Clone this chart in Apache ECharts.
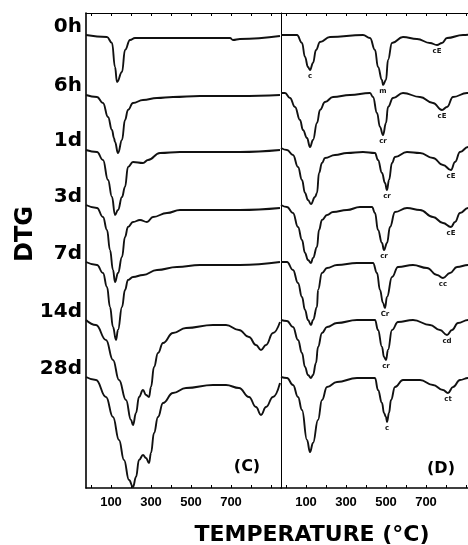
<!DOCTYPE html>
<html>
<head>
<meta charset="utf-8">
<script src="https://cdn.jsdelivr.net/npm/echarts@6/dist/echarts.min.js"></script>
<style>
  html, body { margin: 0; padding: 0; background: #fff; }
  #chart { width: 468px; height: 545px; }
</style>
</head>
<body>
<div id="chart"></div>
<script>
// curing times, top to bottom
const samples = ['0h', '6h', '1d', '3d', '7d', '14d', '28d'];
// vertical offset of each trace (stacked display units, downwards)
const baseline = [22, 81, 136, 192, 249, 307, 364];
const tickLabels = [100, 300, 500, 700];
const tickValues = [0, 100, 200, 300, 400, 500, 600, 700, 800, 900];

// panel (C): [temperature, DTG deflection below baseline]
const c0h = [[-25,0],[80,2],[105,8],[120,32],[130,47],[155,37],[170,15],[195,5],[220,3],[500,3],[695,3],[710,5],[745,4],[945,1]];
const c6h = [[-25,1],[30,3],[60,9],[85,23],[105,36],[115,44],[120,48],[135,59],[155,46],[170,26],[185,16],[210,9],[260,6],[330,4],[410,3],[545,2],[745,2],[945,1]];
const c1d = [[-25,1],[30,3],[60,11],[85,31],[105,48],[120,66],[135,61],[155,48],[170,38],[185,18],[210,13],[260,14],[285,11],[345,4],[445,3],[745,3],[945,1]];
const c3d = [[-25,0],[30,3],[60,12],[80,25],[95,45],[110,65],[120,77],[135,68],[155,52],[170,32],[185,22],[210,17],[245,15],[280,17],[310,12],[380,8],[445,5],[745,5],[945,3]];
const c7d = [[-25,0],[30,3],[60,11],[80,25],[95,45],[110,65],[125,78],[135,68],[155,45],[170,28],[185,18],[210,15],[260,13],[330,8],[430,5],[545,3],[745,3],[945,0]];
const c14d = [[-25,0],[25,5],[75,20],[110,40],[140,60],[175,80],[200,100],[210,105],[225,93],[240,77],[260,70],[275,75],[290,77],[300,67],[315,47],[335,33],[360,23],[410,13],[475,8],[610,5],[675,5],[740,10],[790,17],[825,25],[850,30],[875,25],[910,13],[945,2]];
const c28d = [[-25,0],[25,3],[75,20],[110,40],[140,63],[165,83],[190,103],[210,110],[225,100],[240,83],[260,78],[275,81],[290,86],[300,76],[315,56],[335,40],[360,26],[410,16],[475,11],[610,8],[675,8],[740,11],[790,20],[825,30],[850,38],[875,30],[910,20],[945,6]];

// panel (D)
const d0h = [[-25,0],[55,0],[80,8],[95,22],[110,32],[120,35],[135,28],[150,15],[170,7],[220,2],[385,0],[420,3],[445,15],[460,32],[480,45],[485,50],[500,45],[510,25],[530,8],[585,2],[655,4],[720,8],[755,10],[780,8],[805,3],[885,0],[940,-1]];
const d6h = [[-25,-1],[-5,-1],[20,4],[45,13],[70,26],[85,36],[105,44],[120,53],[135,46],[155,29],[170,16],[195,8],[235,3],[320,1],[420,-1],[435,3],[455,19],[470,33],[485,41],[500,29],[510,13],[535,4],[585,-1],[670,3],[735,9],[780,16],[805,13],[835,3],[905,-1],[940,-2]];
const d1d = [[-25,-1],[5,1],[35,6],[60,18],[80,31],[95,44],[110,51],[125,55],[145,48],[155,44],[165,24],[180,14],[195,9],[245,6],[305,4],[385,3],[445,4],[460,11],[480,24],[495,34],[505,41],[515,31],[530,14],[545,8],[605,3],[670,4],[735,9],[785,16],[825,21],[845,13],[870,3],[910,-2],[940,-4]];
const d3d = [[-25,0],[5,2],[35,8],[60,22],[80,35],[95,48],[110,55],[125,58],[135,53],[155,42],[165,25],[180,15],[205,10],[235,7],[305,5],[370,2],[430,2],[445,8],[460,25],[480,38],[490,45],[505,38],[520,22],[545,7],[605,3],[670,5],[735,12],[785,18],[825,22],[845,17],[870,8],[910,3],[940,1]];
const d7d = [[-25,0],[5,0],[35,8],[60,21],[80,35],[95,48],[110,58],[125,63],[135,58],[155,45],[160,28],[180,11],[205,6],[255,3],[355,1],[435,1],[455,11],[470,28],[485,41],[495,46],[505,35],[530,15],[560,5],[635,3],[705,6],[755,13],[785,16],[820,11],[855,5],[910,3],[940,2]];
const d14d = [[-25,0],[5,1],[35,7],[60,20],[80,33],[95,47],[110,55],[125,58],[135,55],[150,43],[160,27],[180,13],[205,7],[255,3],[355,0],[445,0],[460,10],[480,27],[490,37],[500,40],[510,30],[530,10],[560,2],[635,0],[720,5],[770,10],[805,15],[830,10],[860,3],[910,0],[940,-1]];
const d28d = [[-25,0],[5,1],[35,8],[60,20],[80,33],[105,63],[120,75],[135,66],[160,43],[180,23],[205,10],[255,5],[355,1],[445,1],[460,13],[480,26],[490,36],[500,40],[505,45],[515,36],[525,23],[545,10],[585,3],[670,3],[735,8],[785,13],[810,16],[835,10],[870,3],[910,1],[940,0]];

const panelC = [c0h, c6h, c1d, c3d, c7d, c14d, c28d];
const panelD = [d0h, d6h, d1d, d3d, d7d, d14d, d28d];

// small peak notes in (D): [sample index, temperature, text]
const notesD = [
  [0, 120, 'c'], [0, 485, 'm'], [0, 755, 'cE'],
  [1, 485, 'cr'], [1, 780, 'cE'],
  [2, 505, 'cr'], [2, 825, 'cE'],
  [3, 490, 'cr'], [3, 825, 'cE'],
  [4, 495, 'Cr'], [4, 785, 'cc'],
  [5, 500, 'cr'], [5, 805, 'cd'],
  [6, 505, 'c'], [6, 810, 'ct']
];

const chart = echarts.init(document.getElementById('chart'));

const gridLeft = 86, gridTop = 13, plotH = 475, panelW = 195;

function xAxes(grid) {
  return [
    {
      gridIndex: grid, type: 'value', min: -25, max: 950, position: 'bottom',
      axisLine: { show: true, onZero: false, lineStyle: { color: '#000', width: 1.5 } },
      axisTick: { show: true, inside: true, length: 3, customValues: tickValues, lineStyle: { color: '#000' } },
      axisLabel: {
        show: true, customValues: tickLabels, margin: 8, color: '#000',
        fontFamily: 'Liberation Sans', fontWeight: 'bold', fontSize: 13
      },
      splitLine: { show: false }
    },
    {
      gridIndex: grid, type: 'value', min: -25, max: 950, position: 'top',
      axisLine: { show: true, onZero: false, lineStyle: { color: '#000', width: 1.2 } },
      axisTick: { show: true, inside: true, length: 3, customValues: tickValues, lineStyle: { color: '#000' } },
      axisLabel: { show: false },
      splitLine: { show: false }
    }
  ];
}

function yAxis(grid, w) {
  return {
    gridIndex: grid, type: 'value', min: 0, max: plotH, inverse: true, position: 'left',
    axisLine: { show: true, onZero: false, lineStyle: { color: '#000', width: w } },
    axisTick: { show: false }, axisLabel: { show: false }, splitLine: { show: false }
  };
}

const series = [];
[panelC, panelD].forEach((panel, p) => {
  panel.forEach((trace, i) => {
    const s = {
      type: 'line',
      name: samples[i] + (p ? ' D' : ' C'),
      xAxisIndex: p * 2,
      yAxisIndex: p,
      data: trace.map(([t, d]) => [t, baseline[i] + d]),
      showSymbol: false,
      smooth: 0.45,
      smoothMonotone: 'x',
      lineStyle: { color: '#111', width: 1.9 },
      silent: true,
      z: 3
    };
    if (p === 1) {
      const notes = notesD.filter(n => n[0] === i);
      s.markPoint = {
        symbol: 'circle', symbolSize: 1,
        itemStyle: { color: 'rgba(0,0,0,0)' },
        label: {
          show: true, position: 'bottom', distance: 2, color: '#111',
          fontFamily: 'DejaVu Sans', fontWeight: 'bold', fontSize: 7,
          formatter: (prm) => prm.name
        },
        data: notes.map(n => {
          const pt = trace.find(q => q[0] === n[1]);
          return { name: n[2], coord: [n[1], baseline[i] + pt[1]] };
        })
      };
    }
    series.push(s);
  });
});

const sampleTexts = samples.map((s, i) => ({
  type: 'text',
  x: 82, y: gridTop + baseline[i] - 8,
  style: {
    text: s, fill: '#000', font: 'bold 20px "DejaVu Sans"',
    textAlign: 'right', textVerticalAlign: 'middle'
  }
}));

chart.setOption({
  animation: false,
  backgroundColor: '#fff',
  grid: [
    { left: gridLeft, top: gridTop, width: panelW, height: plotH, outerBoundsMode: 'none' },
    { left: gridLeft + panelW, top: gridTop, width: panelW, height: plotH, outerBoundsMode: 'none' }
  ],
  xAxis: xAxes(0).concat(xAxes(1)),
  yAxis: [yAxis(0, 1.6), yAxis(1, 1)],
  series: series,
  graphic: sampleTexts.concat([
    {
      type: 'text', x: 26, y: 234, rotation: Math.PI / 2,
      style: {
        text: 'DTG', fill: '#000', font: 'bold 24px "DejaVu Sans"',
        textAlign: 'center', textVerticalAlign: 'middle', letterSpacing: 3
      }
    },
    {
      type: 'text', x: 312, y: 535,
      style: {
        text: 'TEMPERATURE (°C)', fill: '#000', font: 'bold 22px "DejaVu Sans"',
        textAlign: 'center', textVerticalAlign: 'middle'
      }
    },
    {
      type: 'text', x: 247, y: 467,
      style: {
        text: '(C)', fill: '#000', font: 'bold 16px "DejaVu Sans"',
        textAlign: 'center', textVerticalAlign: 'middle', letterSpacing: 1
      }
    },
    {
      type: 'text', x: 441, y: 469,
      style: {
        text: '(D)', fill: '#000', font: 'bold 16px "DejaVu Sans"',
        textAlign: 'center', textVerticalAlign: 'middle', letterSpacing: 1
      }
    }
  ])
});
</script>
</body>
</html>
